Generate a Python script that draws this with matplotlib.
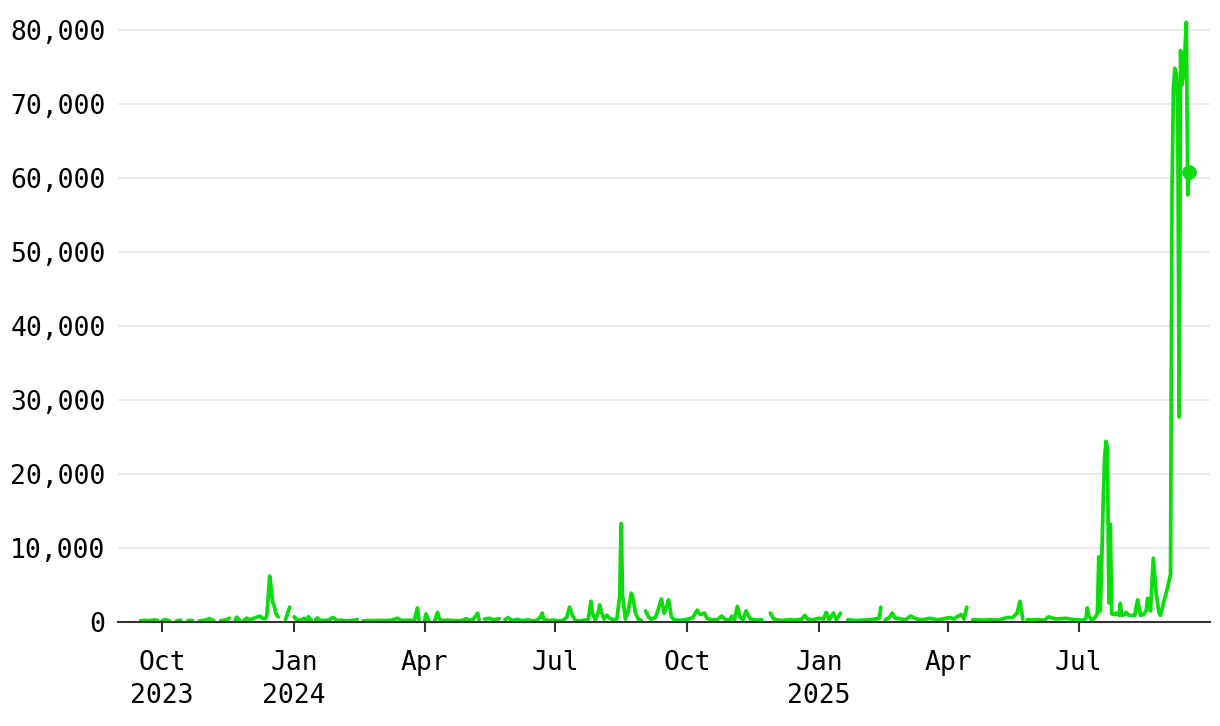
import numpy as np
import pandas as pd
import matplotlib
matplotlib.use("Agg")
import matplotlib.pyplot as plt
import matplotlib.ticker as mticker

nan = np.nan

# daily counts, NaN = missing day (line break)
late_2023 = [
    ("2023-09-16", 150), ("2023-09-19", 220), ("2023-09-22", 160), ("2023-09-25", 280),
    ("2023-09-28", 200), ("2023-09-30", nan),
    ("2023-10-01", 150), ("2023-10-03", 320), ("2023-10-06", 180), ("2023-10-09", nan),
    ("2023-10-11", 150), ("2023-10-14", 240), ("2023-10-17", nan),
    ("2023-10-19", 180), ("2023-10-22", 220), ("2023-10-25", nan),
    ("2023-10-27", 150), ("2023-10-31", 260), ("2023-11-03", 450), ("2023-11-06", 200),
    ("2023-11-09", nan),
    ("2023-11-11", 200), ("2023-11-14", 260), ("2023-11-17", 500), ("2023-11-19", nan),
    ("2023-11-21", 300), ("2023-11-22", 650), ("2023-11-24", 250), ("2023-11-26", nan),
    ("2023-11-27", 200), ("2023-11-29", 520), ("2023-12-01", 300), ("2023-12-03", 420),
    ("2023-12-06", 650), ("2023-12-08", 800), ("2023-12-10", 500), ("2023-12-12", 450),
    ("2023-12-13", 900), ("2023-12-14", 3300), ("2023-12-15", 6200), ("2023-12-16", 4600),
    ("2023-12-17", 2700), ("2023-12-18", 2300), ("2023-12-19", 1400), ("2023-12-20", 900),
    ("2023-12-21", 700), ("2023-12-22", nan),
    ("2023-12-26", 300), ("2023-12-27", 900), ("2023-12-28", 1500), ("2023-12-29", 2000),
    ("2023-12-30", nan),
]

h1_2024 = [
    ("2024-01-01", 700), ("2024-01-03", 300), ("2024-01-05", 250), ("2024-01-08", 500),
    ("2024-01-10", 250), ("2024-01-11", 700), ("2024-01-13", 200), ("2024-01-15", nan),
    ("2024-01-16", 300), ("2024-01-17", 550), ("2024-01-19", 250), ("2024-01-22", 200),
    ("2024-01-25", 250), ("2024-01-28", 600), ("2024-01-31", 200), ("2024-02-03", 250),
    ("2024-02-06", 150), ("2024-02-10", 200), ("2024-02-14", 350), ("2024-02-16", nan),
    ("2024-02-18", 150), ("2024-02-22", 200), ("2024-02-26", 180), ("2024-03-01", 220),
    ("2024-03-05", 200), ("2024-03-09", 250), ("2024-03-13", 500), ("2024-03-16", 200),
    ("2024-03-20", 250), ("2024-03-24", 200), ("2024-03-25", 300), ("2024-03-26", 1100),
    ("2024-03-27", 1900), ("2024-03-28", 300), ("2024-03-29", nan),
    ("2024-04-01", 200), ("2024-04-02", 1100), ("2024-04-03", 600), ("2024-04-04", 150),
    ("2024-04-06", nan),
    ("2024-04-08", 200), ("2024-04-09", 700), ("2024-04-10", 1300), ("2024-04-11", 500),
    ("2024-04-13", 200), ("2024-04-17", 250), ("2024-04-21", 200), ("2024-04-25", 150),
    ("2024-04-28", 250), ("2024-04-30", 450), ("2024-05-02", 200), ("2024-05-05", 400),
    ("2024-05-07", 900), ("2024-05-08", 1200), ("2024-05-09", 300), ("2024-05-11", nan),
    ("2024-05-13", 400), ("2024-05-16", 500), ("2024-05-19", 300), ("2024-05-23", 450),
    ("2024-05-26", nan),
    ("2024-05-27", 300), ("2024-05-29", 600), ("2024-06-01", 200), ("2024-06-05", 350),
    ("2024-06-08", 150), ("2024-06-12", 300), ("2024-06-15", 150), ("2024-06-18", 200),
    ("2024-06-21", 700), ("2024-06-22", 1200), ("2024-06-23", 400), ("2024-06-26", 200),
    ("2024-06-30", 250),
]

q3_2024 = [
    ("2024-07-03", 150), ("2024-07-06", 200), ("2024-07-09", 600), ("2024-07-11", 2000),
    ("2024-07-13", 900), ("2024-07-15", 200), ("2024-07-18", 150), ("2024-07-21", 250),
    ("2024-07-24", 300), ("2024-07-25", 1500), ("2024-07-26", 2800), ("2024-07-27", 1200),
    ("2024-07-29", 300), ("2024-07-31", 1200), ("2024-08-01", 2300), ("2024-08-02", 1500),
    ("2024-08-04", 400), ("2024-08-06", 900), ("2024-08-08", 500), ("2024-08-11", 300),
    ("2024-08-13", 400), ("2024-08-15", 3500), ("2024-08-16", 13300), ("2024-08-17", 3500),
    ("2024-08-19", 400), ("2024-08-21", 1500), ("2024-08-23", 3900), ("2024-08-24", 3500),
    ("2024-08-26", 1200), ("2024-08-28", 400), ("2024-08-30", 200), ("2024-08-31", nan),
    ("2024-09-02", 1500), ("2024-09-04", 700), ("2024-09-06", 400), ("2024-09-09", 600),
    ("2024-09-11", 1800), ("2024-09-13", 3100), ("2024-09-15", 1200), ("2024-09-17", 2200),
    ("2024-09-18", 3000), ("2024-09-20", 700), ("2024-09-22", 300), ("2024-09-26", 200),
    ("2024-09-29", 300),
]

oct24_jun25 = [
    ("2024-10-02", 400), ("2024-10-05", 600), ("2024-10-07", 1300), ("2024-10-08", 1600),
    ("2024-10-10", 1000), ("2024-10-13", 1200), ("2024-10-15", 500), ("2024-10-18", 300),
    ("2024-10-22", 300), ("2024-10-25", 800), ("2024-10-28", 300), ("2024-10-31", 300),
    ("2024-11-01", 800), ("2024-11-03", 300), ("2024-11-05", 2100), ("2024-11-07", 600),
    ("2024-11-09", 300), ("2024-11-11", 1500), ("2024-11-14", 400), ("2024-11-18", 250),
    ("2024-11-22", 300), ("2024-11-24", nan),
    ("2024-11-28", 1200), ("2024-11-30", 500), ("2024-12-02", 300), ("2024-12-06", 200),
    ("2024-12-11", 300), ("2024-12-16", 250), ("2024-12-20", 400), ("2024-12-22", 900),
    ("2024-12-24", 400), ("2024-12-27", 300), ("2025-01-01", 500), ("2025-01-04", 400),
    ("2025-01-06", 1300), ("2025-01-08", 300), ("2025-01-11", 1200), ("2025-01-13", 300),
    ("2025-01-16", 1200), ("2025-01-17", nan),
    ("2025-01-21", 300), ("2025-01-27", 200), ("2025-02-01", 250), ("2025-02-05", 300),
    ("2025-02-09", 400), ("2025-02-12", 500), ("2025-02-13", 2000), ("2025-02-14", nan),
    ("2025-02-16", 300), ("2025-02-19", 600), ("2025-02-21", 1200), ("2025-02-23", 500),
    ("2025-02-25", 500), ("2025-03-02", 300), ("2025-03-06", 800), ("2025-03-10", 400),
    ("2025-03-14", 300), ("2025-03-19", 500), ("2025-03-25", 300), ("2025-03-28", 400),
    ("2025-04-02", 600), ("2025-04-05", 400), ("2025-04-07", 700), ("2025-04-10", 1000),
    ("2025-04-12", 400), ("2025-04-14", 2000), ("2025-04-15", nan),
    ("2025-04-18", 300), ("2025-04-25", 250), ("2025-05-01", 300), ("2025-05-06", 250),
    ("2025-05-12", 600), ("2025-05-16", 600), ("2025-05-19", 1200), ("2025-05-21", 2800),
    ("2025-05-23", 400), ("2025-05-24", nan),
    ("2025-05-26", 300), ("2025-06-02", 300), ("2025-06-07", 250), ("2025-06-10", 700),
    ("2025-06-15", 400), ("2025-06-22", 500), ("2025-06-28", 300),
]

q3_2025 = [
    ("2025-07-01", 300), ("2025-07-04", 200), ("2025-07-06", 500), ("2025-07-07", 1900),
    ("2025-07-08", 800), ("2025-07-10", 300), ("2025-07-12", 500), ("2025-07-13", 800),
    ("2025-07-14", 1200), ("2025-07-15", 8800), ("2025-07-16", 1500), ("2025-07-17", 8000),
    ("2025-07-18", 16000), ("2025-07-19", 22000), ("2025-07-20", 24400), ("2025-07-21", 23500),
    ("2025-07-22", 2600), ("2025-07-23", 13200), ("2025-07-24", 1100), ("2025-07-26", 1000),
    ("2025-07-27", 1200), ("2025-07-29", 900), ("2025-07-30", 2500), ("2025-07-31", 900),
    ("2025-08-02", 1000), ("2025-08-03", 1300), ("2025-08-05", 900), ("2025-08-07", 900),
    ("2025-08-09", 900), ("2025-08-11", 3000), ("2025-08-13", 900), ("2025-08-15", 1000),
    ("2025-08-17", 1500), ("2025-08-18", 3200), ("2025-08-20", 1500), ("2025-08-22", 8600),
    ("2025-08-24", 3800), ("2025-08-26", 1200), ("2025-08-27", 900), ("2025-08-29", 2500),
    ("2025-09-01", 4700), ("2025-09-02", 5600), ("2025-09-03", 6500), ("2025-09-04", 58000),
    ("2025-09-05", 72000), ("2025-09-06", 74800), ("2025-09-07", 74000), ("2025-09-08", 70000),
    ("2025-09-09", 27700), ("2025-09-10", 77200), ("2025-09-11", 72600), ("2025-09-12", 74000),
    ("2025-09-13", 77000), ("2025-09-14", 81000), ("2025-09-15", 57700), ("2025-09-16", 60800),
]

tick_dates = ["2023-10-01", "2024-01-01", "2024-04-01", "2024-07-01",
              "2024-10-01", "2025-01-01", "2025-04-01", "2025-07-01"]
tick_labels = ["Oct\n2023", "Jan\n2024", "Apr", "Jul", "Oct", "Jan\n2025", "Apr", "Jul"]
y_ticks = [0, 10000, 20000, 30000, 40000, 50000, 60000, 70000, 80000]

df = pd.DataFrame(late_2023 + h1_2024 + q3_2024 + oct24_jun25 + q3_2025,
                  columns=["date", "count"])
df["date"] = pd.to_datetime(df["date"])

green = "#0cdc0c"
plt.rcParams["font.family"] = ["DejaVu Sans Mono"]

fig = plt.figure(figsize=(12.2, 7.26), dpi=100)
ax = fig.add_axes([118 / 1220, 104 / 726, 1092 / 1220, 607 / 726])

ax.plot(df["date"], df["count"], color=green, lw=2.7, solid_joinstyle="round",
        solid_capstyle="round", zorder=3)
last = df.dropna().iloc[-1]
ax.plot([last["date"]], [last["count"]], "o", color=green, ms=9.5, zorder=4)

ax.set_xlim(pd.Timestamp("2023-08-31 06:00"), pd.Timestamp("2025-09-30 12:00"))
ax.set_ylim(0, 82000)

ax.set_yticks(y_ticks)
ax.yaxis.set_major_formatter(mticker.StrMethodFormatter("{x:,.0f}"))
ax.set_xticks(pd.to_datetime(tick_dates))
ax.set_xticklabels(tick_labels, linespacing=1.35)

ax.grid(axis="y", color="#e6e6e6", lw=1.1, zorder=0)
for s in ["left", "right", "top"]:
    ax.spines[s].set_visible(False)
ax.spines["bottom"].set_color("#333333")
ax.spines["bottom"].set_linewidth(1.5)
ax.spines["bottom"].set_zorder(5)

ax.tick_params(axis="y", length=0, pad=9, labelsize=19, labelcolor="black")
ax.tick_params(axis="x", length=7, width=1.5, color="#333333", pad=13,
               labelsize=19, labelcolor="black")

fig.savefig("out.png", dpi=100)
